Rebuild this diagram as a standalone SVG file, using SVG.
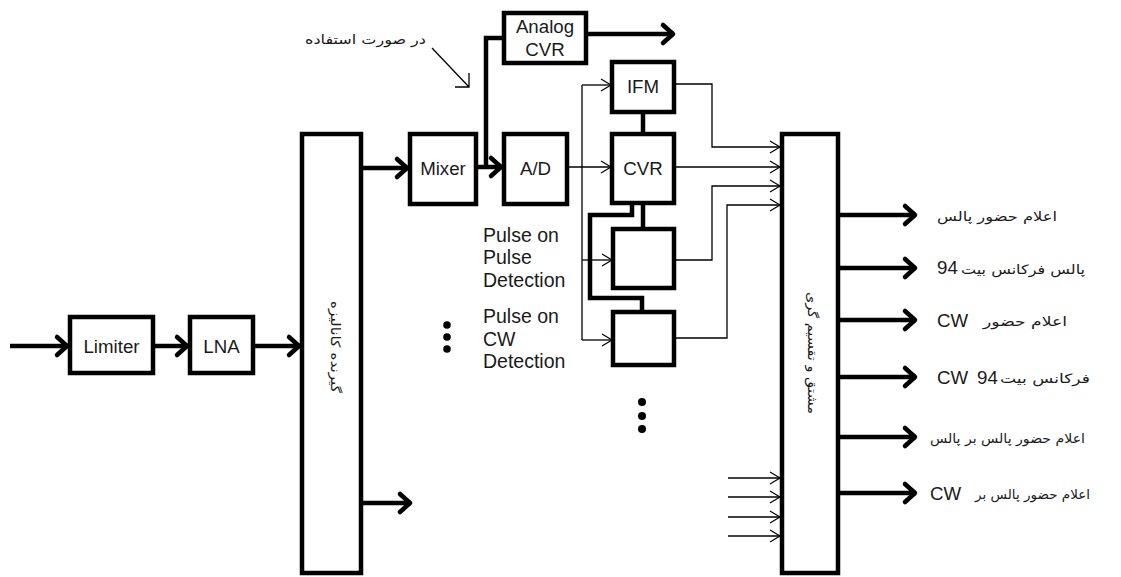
<svg xmlns="http://www.w3.org/2000/svg" width="1121" height="577" viewBox="0 0 1121 577">
<style>
.box{fill:#fff;stroke:#000;stroke-width:4.5}
.thick{fill:none;stroke:#000;stroke-width:4.5}
.thin{fill:none;stroke:#000;stroke-width:1.3}
.lbl{font-family:"Liberation Sans",Arial,sans-serif;font-size:18.7px;fill:#1a1a1a}
.pl{font-family:"Liberation Sans",Arial,sans-serif;font-size:19.5px;fill:#1a1a1a}
.fa{font-family:"DejaVu Sans",sans-serif;font-size:13px;fill:#1a1a1a}
.dot{fill:#000}
</style>
<defs>
<marker id="ah" markerUnits="userSpaceOnUse" viewBox="-14 -12 16 24" refX="0" refY="0" markerWidth="16" markerHeight="24" orient="auto" overflow="visible">
<path d="M-11,-9 L-1,0 L-11,9" fill="none" stroke="#000" stroke-width="4.5" stroke-linecap="round" stroke-linejoin="round"/>
</marker>
<marker id="at" markerUnits="userSpaceOnUse" viewBox="-12 -8 14 16" refX="0" refY="0" markerWidth="14" markerHeight="16" orient="auto" overflow="visible">
<path d="M-10,-6 L0,0 L-10,6" fill="none" stroke="#000" stroke-width="1.2"/>
</marker>
</defs>
<rect x="0" y="0" width="1121" height="577" fill="#fff"/>

<g id="connectors">
<path class="thick" d="M10,346 H68" marker-end="url(#ah)"/>
<path class="thick" d="M153,346 H188" marker-end="url(#ah)"/>
<path class="thick" d="M253,346 H300" marker-end="url(#ah)"/>
<path class="thick" d="M361,168 H408" marker-end="url(#ah)"/>
<path class="thick" d="M361,503 H411" marker-end="url(#ah)"/>
<path class="thick" d="M476,167 H502" marker-end="url(#ah)"/>
<path class="thick" d="M486,167 V38 H504"/>
<path class="thick" d="M586,34 H674" marker-end="url(#ah)"/>
<path class="thick" d="M643,112 V134"/>
<path class="thick" d="M643,203 V229"/>
<path class="thick" d="M632,203 V215 H590 V298 H642 V312"/>
<path class="thin" d="M567,167 H611" marker-end="url(#at)"/>
<path class="thin" d="M582,85 V340"/>
<path class="thin" d="M582,85 H611" marker-end="url(#at)"/>
<path class="thin" d="M582,260 H612" marker-end="url(#at)"/>
<path class="thin" d="M582,340 H612" marker-end="url(#at)"/>
<path class="thin" d="M674,84 H712 V147 H780" marker-end="url(#at)"/>
<path class="thin" d="M674,167 H780" marker-end="url(#at)"/>
<path class="thin" d="M674,260 H712 V186 H780" marker-end="url(#at)"/>
<path class="thin" d="M674,338 H727 V205 H780" marker-end="url(#at)"/>
<path class="thin" d="M728,478 H780" marker-end="url(#at)"/>
<path class="thin" d="M728,497 H780" marker-end="url(#at)"/>
<path class="thin" d="M728,517 H780" marker-end="url(#at)"/>
<path class="thin" d="M728,536 H780" marker-end="url(#at)"/>
<path class="thick" d="M838,215 H916" marker-end="url(#ah)"/>
<path class="thick" d="M838,268 H916" marker-end="url(#ah)"/>
<path class="thick" d="M838,320 H916" marker-end="url(#ah)"/>
<path class="thick" d="M838,377 H916" marker-end="url(#ah)"/>
<path class="thick" d="M838,437 H916" marker-end="url(#ah)"/>
<path class="thick" d="M838,493 H916" marker-end="url(#ah)"/>
<path class="thin" d="M432,48 L469,87 M469,73 V87 H455"/>
</g>

<g id="limiter"><rect class="box" x="70" y="317" width="83" height="56"/><text class="lbl" x="111.5" y="353" text-anchor="middle">Limiter</text></g>
<g id="lna"><rect class="box" x="190" y="317" width="63" height="56"/><text class="lbl" x="221.5" y="353" text-anchor="middle">LNA</text></g>
<g id="receiver"><rect class="box" x="302" y="134" width="59" height="439"/><text class="fa" transform="translate(333,347) rotate(90)" x="0" y="2" text-anchor="middle" textLength="92" lengthAdjust="spacingAndGlyphs">گیرنده کانالیزه</text></g>
<g id="mixer"><rect class="box" x="410" y="134" width="66" height="70"/><text class="lbl" x="443" y="175" text-anchor="middle">Mixer</text></g>
<g id="ad"><rect class="box" x="504" y="134" width="63" height="70"/><text class="lbl" x="535.5" y="175" text-anchor="middle">A/D</text></g>
<g id="analog-cvr"><rect class="box" x="504" y="13" width="82" height="50"/><text class="lbl" x="545" y="33" text-anchor="middle">Analog</text><text class="lbl" x="545" y="56" text-anchor="middle">CVR</text></g>
<g id="ifm"><rect class="box" x="612" y="62" width="62" height="50"/><text class="lbl" x="643" y="93" text-anchor="middle">IFM</text></g>
<g id="cvr"><rect class="box" x="612" y="134" width="62" height="69"/><text class="lbl" x="643" y="175" text-anchor="middle">CVR</text></g>
<g id="pop"><rect class="box" x="613" y="229" width="61" height="59"/></g>
<g id="pocw"><rect class="box" x="613" y="312" width="61" height="53"/></g>
<g id="logic"><rect class="box" x="782" y="134" width="56" height="439"/><text class="fa" transform="translate(810,353) rotate(90)" x="0" y="2" text-anchor="middle" textLength="122" lengthAdjust="spacingAndGlyphs">مشتق و تقسیم گری</text></g>

<g id="labels">
<text class="fa" x="305" y="44" textLength="121" lengthAdjust="spacingAndGlyphs">در صورت استفاده</text>
<text class="pl" x="483" y="242">Pulse on</text>
<text class="pl" x="483" y="264">Pulse</text>
<text class="pl" x="483" y="287">Detection</text>
<text class="pl" x="483" y="323">Pulse on</text>
<text class="pl" x="483" y="346">CW</text>
<text class="pl" x="483" y="368">Detection</text>
<circle class="dot" cx="447" cy="325" r="3.8"/><circle class="dot" cx="447" cy="337" r="3.8"/><circle class="dot" cx="447" cy="349" r="3.8"/>
<circle class="dot" cx="642" cy="402" r="4"/><circle class="dot" cx="642" cy="416" r="4"/><circle class="dot" cx="642" cy="429" r="4"/>
<text class="fa" x="937" y="221" textLength="120" lengthAdjust="spacingAndGlyphs">اعلام حضور پالس</text>
<text class="lbl" x="937" y="274">94</text>
<text class="fa" x="961" y="274" textLength="124" lengthAdjust="spacingAndGlyphs">پالس فرکانس بیت</text>
<text class="lbl" x="937" y="327">CW</text>
<text class="fa" x="983" y="326" textLength="84" lengthAdjust="spacingAndGlyphs">اعلام حضور</text>
<text class="lbl" x="937" y="384">CW</text>
<text class="lbl" x="977" y="384">94</text>
<text class="fa" x="1000" y="383" textLength="90" lengthAdjust="spacingAndGlyphs">فرکانس بیت</text>
<text class="fa" x="930" y="443" textLength="155" lengthAdjust="spacingAndGlyphs">اعلام حضور پالس بر پالس</text>
<text class="lbl" x="930" y="500">CW</text>
<text class="fa" x="975" y="499" textLength="115" lengthAdjust="spacingAndGlyphs">اعلام حضور پالس بر</text>
</g>
</svg>
